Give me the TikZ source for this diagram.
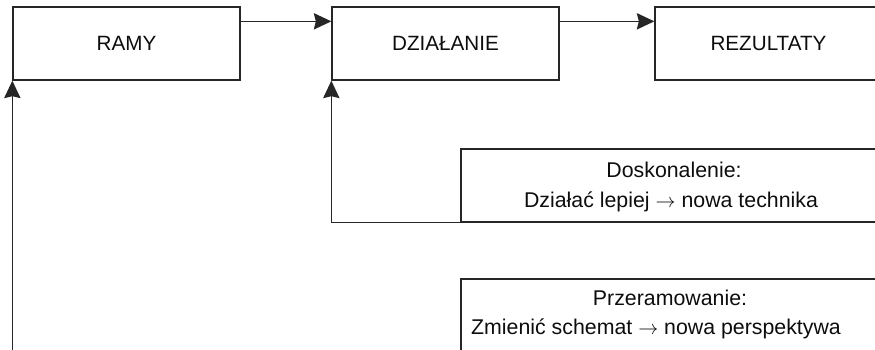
\documentclass[tikz,border=0pt]{standalone}
\usepackage{fontspec}
\setmainfont{Liberation Sans}
\usetikzlibrary{arrows.meta}
\begin{document}
\begin{tikzpicture}[x=0.6pt, y=-0.6pt,
        box/.style={draw=black!85, line width=0.8pt, minimum width=136.2pt, minimum height=43.8pt,
            inner sep=0pt, font=\fontsize{12.4}{14}\selectfont, text=black!95},
        widebox/.style={draw=black!85, line width=0.8pt, minimum width=252.6pt, minimum height=43.8pt, inner sep=0pt},
        note/.style={anchor=base, font=\fontsize{12.8}{15}\selectfont, text=black!95},
        flow/.style={draw=black!85, line width=0.8pt, -{Stealth[length=10.5pt, width=9.8pt, inset=1.2pt]}}]
        % rama rysunku
        \useasboundingbox (0,0) rectangle (875,349);
        \clip (0,0) rectangle (875,349);

        % bloki glowne
        \node[box] (ramy) at (126.5,43.5) {RAMY};
        \node[box] (dzialanie) at (445.5,43.5) {DZIAŁANIE};
        \node[box] (rezultaty) at (768.5,43.5) {REZULTATY};

        % bloki petli
        \node[widebox] (doskonalenie) at (671.5,185.5) {};
        \node[widebox] (przeramowanie) at (671.5,315.5) {};
        \node[note] (dosk1) at (674,177.5) {Doskonalenie:};
        \node[note] (dosk2) at (671,207.5) {Działać lepiej $\rightarrow$ nowa technika};
        \node[note] (przer1) at (670,305.5) {Przeramowanie:};
        \node[note] (przer2) at (656,334.5) {Zmienić schemat $\rightarrow$ nowa perspektywa};

        % strzalki
        \draw[flow] ([yshift=-9pt]ramy.north east) -- ([yshift=-9pt]dzialanie.north west);
        \draw[flow] ([yshift=-9pt]dzialanie.north east) -- ([yshift=-9pt]rezultaty.north west);
        \draw[flow] (doskonalenie.south east) -| (dzialanie.south west);
        \draw[flow] (przeramowanie.south east) -| (ramy.south west);
    \end{tikzpicture}
\end{document}
